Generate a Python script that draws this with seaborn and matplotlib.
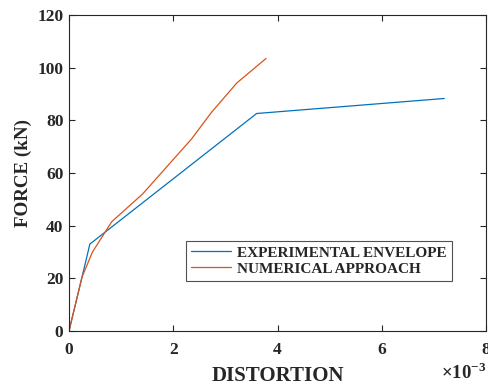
import matplotlib
matplotlib.use("Agg")
import matplotlib.pyplot as plt
import seaborn as sns
import pandas as pd

# datos (distorsión en unidades de 1e-3, fuerza en kN)
exp_dist = [0.0, 0.25, 0.40, 3.60, 7.20]
exp_force = [0.0, 20.5, 33.0, 82.6, 88.3]

num_dist = [0.0, 0.25, 0.45, 0.82, 1.41, 2.35, 2.74, 3.22, 3.78]
num_force = [0.0, 20.5, 30.0, 41.5, 52.0, 72.9, 83.2, 94.2, 103.5]

series_names = ["EXPERIMENTAL ENVELOPE", "NUMERICAL APPROACH"]
colors = ["#0072BD", "#D95319"]

df = pd.concat([
    pd.DataFrame({"x": [d * 1e-3 for d in exp_dist], "y": exp_force, "serie": series_names[0]}),
    pd.DataFrame({"x": [d * 1e-3 for d in num_dist], "y": num_force, "serie": series_names[1]}),
])

sns.set_style("ticks")
plt.rcParams["font.family"] = ["Liberation Serif", "DejaVu Serif"]
plt.rcParams["mathtext.fontset"] = "custom"
plt.rcParams["mathtext.rm"] = "Liberation Serif:bold"
plt.rcParams["mathtext.bf"] = "Liberation Serif:bold"

fig = plt.figure(figsize=(4.88, 3.85), dpi=100)
ax = fig.add_axes([0.1414, 0.1403, 0.8545, 0.8207])

sns.lineplot(data=df, x="x", y="y", hue="serie", palette=colors, sort=False,
             linewidth=0.9, ax=ax, estimator=None)

ax.set_xlim(0, 8e-3)
ax.set_ylim(0, 120)
ax.set_xticks([0, 2e-3, 4e-3, 6e-3, 8e-3])
ax.set_xticklabels(["0", "2", "4", "6", "8"])
ax.set_yticks(range(0, 121, 20))

ax.tick_params(direction="in", top=True, right=True, length=4, width=0.8,
               labelsize=12.5, colors="#262626")
ax.tick_params(axis="x", pad=8)
ax.tick_params(axis="y", pad=4)
for lbl in ax.get_xticklabels() + ax.get_yticklabels():
    lbl.set_fontweight("bold")
for s in ax.spines.values():
    s.set_visible(True)
    s.set_linewidth(0.8)
    s.set_color("#262626")

# factor de escala del eje x, como en la figura original
fig.text(0.903, 0.004, r"×10$^{\mathrm{-3}}$", fontsize=13.5, fontweight="bold",
         color="#262626", ha="left", va="bottom")

ax.set_xlabel("DISTORTION", fontsize=15, fontweight="bold", color="#262626", labelpad=6)
ax.set_ylabel("FORCE (kN)", fontsize=13.7, fontweight="bold", color="#262626", labelpad=4)

leg = ax.legend(loc="lower left", bbox_to_anchor=(0.28, 0.158), fontsize=11,
                frameon=True, fancybox=False, edgecolor="#262626",
                handlelength=2.6, borderpad=0.35, labelspacing=0.15, handletextpad=0.4,
                borderaxespad=0)
leg.get_frame().set_linewidth(0.8)
for t in leg.get_texts():
    t.set_fontweight("bold")

fig.savefig("out.png", dpi=100)
